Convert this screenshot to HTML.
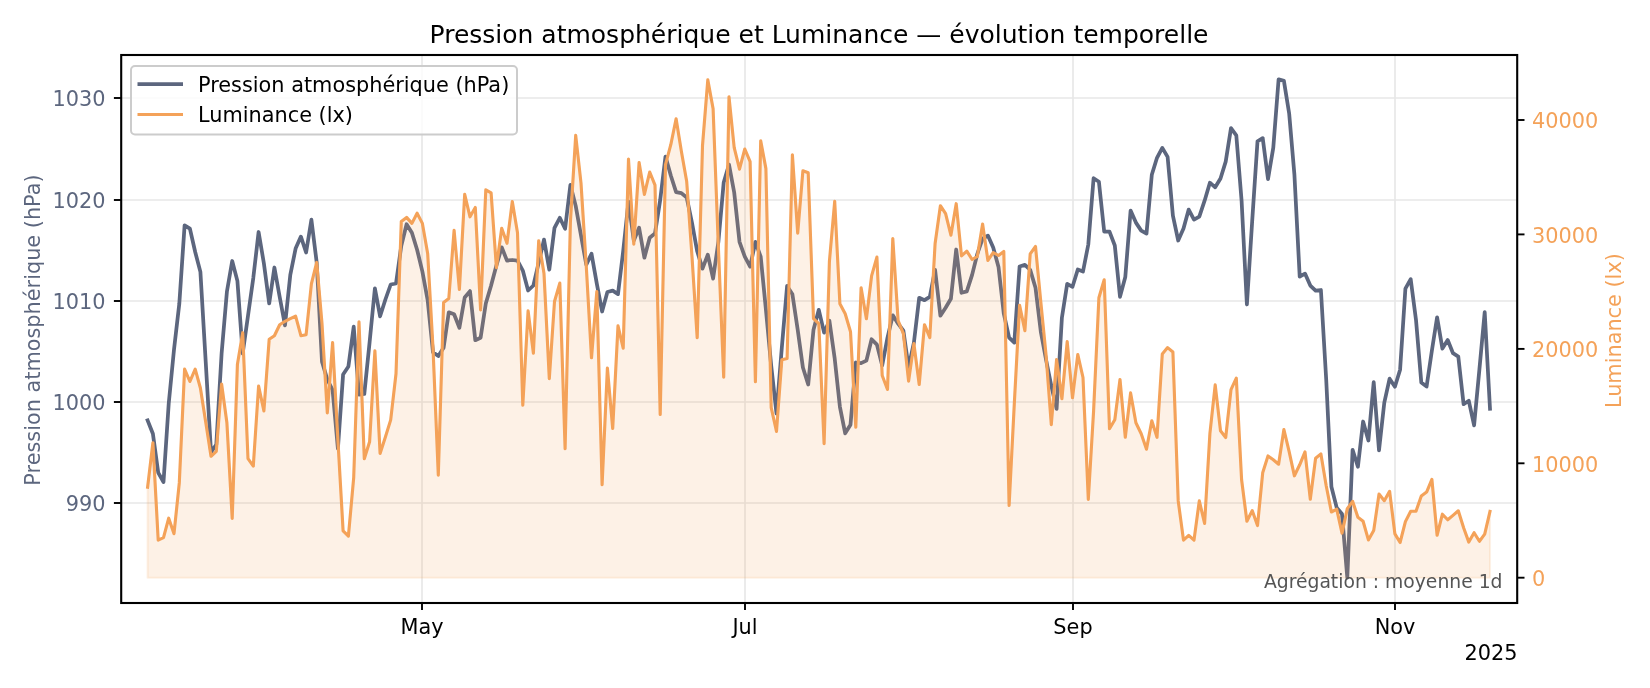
<!DOCTYPE html><html><head><meta charset="utf-8"><title>Pression atmosphérique et Luminance</title><style>html,body{margin:0;padding:0;background:#fff;overflow:hidden}body{width:1650px;height:688px}</style></head><body><svg width="1650" height="688" viewBox="0 0 1650 688" style="display:block;will-change:transform;font-family:'DejaVu Sans','Liberation Sans',sans-serif">
<rect width="1650" height="688" fill="#fff"/>
<line x1="422" x2="422" y1="55.0" y2="603.0" stroke="#e7e7e7" stroke-width="1.67"/>
<line x1="745" x2="745" y1="55.0" y2="603.0" stroke="#e7e7e7" stroke-width="1.67"/>
<line x1="1073" x2="1073" y1="55.0" y2="603.0" stroke="#e7e7e7" stroke-width="1.67"/>
<line x1="1395" x2="1395" y1="55.0" y2="603.0" stroke="#e7e7e7" stroke-width="1.67"/>
<line x1="121.2" x2="1517.2" y1="98" y2="98" stroke="#e7e7e7" stroke-width="1.67"/>
<line x1="121.2" x2="1517.2" y1="200" y2="200" stroke="#e7e7e7" stroke-width="1.67"/>
<line x1="121.2" x2="1517.2" y1="301" y2="301" stroke="#e7e7e7" stroke-width="1.67"/>
<line x1="121.2" x2="1517.2" y1="402" y2="402" stroke="#e7e7e7" stroke-width="1.67"/>
<line x1="121.2" x2="1517.2" y1="503" y2="503" stroke="#e7e7e7" stroke-width="1.67"/>
<path d="M147.6,420.4 L152.9,433.8 L158.2,472.6 L163.5,482.0 L168.7,403.9 L174.0,349.6 L179.3,303.8 L184.6,225.3 L189.9,228.6 L195.2,252.0 L200.4,271.9 L205.7,361.6 L211.0,452.1 L216.3,444.7 L221.6,353.6 L226.9,291.8 L232.2,261.0 L237.4,280.9 L242.7,353.6 L248.0,315.7 L253.3,277.9 L258.6,232.0 L263.9,263.5 L269.2,303.4 L274.4,267.5 L279.7,297.0 L285.0,325.3 L290.3,274.9 L295.6,248.6 L300.9,236.6 L306.1,252.5 L311.4,219.7 L316.7,262.5 L322.0,361.6 L327.3,379.5 L332.6,390.0 L337.9,448.7 L343.1,374.5 L348.4,366.5 L353.7,326.7 L359.0,394.6 L364.3,394.0 L369.6,342.2 L374.9,288.4 L380.1,316.3 L385.4,299.5 L390.7,284.5 L396.0,283.5 L401.3,245.7 L406.6,224.2 L411.9,232.7 L417.1,249.7 L422.4,271.6 L427.7,300.5 L433.0,352.2 L438.3,356.1 L443.6,347.8 L448.8,312.3 L454.1,314.3 L459.4,327.8 L464.7,297.5 L470.0,291.1 L475.3,340.2 L480.6,337.8 L485.8,303.5 L491.1,285.5 L496.4,265.6 L501.7,247.3 L507.0,260.6 L512.3,260.0 L517.5,260.6 L522.8,270.6 L528.1,290.5 L533.4,285.5 L538.7,262.6 L544.0,239.7 L549.3,269.6 L554.5,227.8 L559.8,217.8 L565.1,228.8 L570.4,184.9 L575.7,205.9 L581.0,235.4 L586.3,264.7 L591.5,253.7 L596.8,283.6 L602.1,311.5 L607.4,292.0 L612.7,290.6 L618.0,294.1 L623.2,251.1 L628.5,201.5 L633.8,240.5 L639.1,227.8 L644.4,257.7 L649.7,237.8 L655.0,233.4 L660.2,199.9 L665.5,156.6 L670.8,175.5 L676.1,192.1 L681.4,193.1 L686.7,197.5 L692.0,222.8 L697.2,251.3 L702.5,268.6 L707.8,254.7 L713.1,278.6 L718.4,241.8 L723.7,182.5 L729.0,164.6 L734.2,192.5 L739.5,241.8 L744.8,256.7 L750.1,266.7 L755.4,241.8 L760.7,256.7 L765.9,309.5 L771.2,365.7 L776.5,413.5 L781.8,347.8 L787.1,285.9 L792.4,294.2 L797.7,329.7 L802.9,367.5 L808.2,384.5 L813.5,329.7 L818.8,309.8 L824.1,332.7 L829.4,320.7 L834.7,358.6 L839.9,406.8 L845.2,433.3 L850.5,424.7 L855.8,362.5 L861.1,363.1 L866.4,360.6 L871.6,339.2 L876.9,344.6 L882.2,365.5 L887.5,337.6 L892.8,315.3 L898.1,323.7 L903.4,330.7 L908.6,367.5 L913.9,342.6 L919.2,297.8 L924.5,300.2 L929.8,296.8 L935.1,269.9 L940.4,315.7 L945.6,307.8 L950.9,298.8 L956.2,249.5 L961.5,292.8 L966.8,291.4 L972.1,274.9 L977.3,254.0 L982.6,238.6 L987.9,235.6 L993.2,247.5 L998.5,266.9 L1003.8,313.7 L1009.1,337.6 L1014.3,342.6 L1019.6,266.5 L1024.9,264.9 L1030.2,269.9 L1035.5,287.8 L1040.8,331.6 L1046.0,359.5 L1051.3,385.9 L1056.6,408.8 L1061.9,317.7 L1067.2,283.8 L1072.5,286.8 L1077.8,269.5 L1083.0,271.5 L1088.3,244.5 L1093.6,178.2 L1098.9,181.8 L1104.2,231.6 L1109.5,231.6 L1114.8,245.5 L1120.0,296.8 L1125.3,276.9 L1130.6,210.6 L1135.9,222.6 L1141.2,230.6 L1146.5,233.5 L1151.8,174.8 L1157.0,157.8 L1162.3,147.9 L1167.6,156.9 L1172.9,215.6 L1178.2,240.5 L1183.5,228.6 L1188.7,209.6 L1194.0,219.6 L1199.3,216.6 L1204.6,200.7 L1209.9,182.7 L1215.2,187.3 L1220.5,178.5 L1225.7,161.6 L1231.0,128.1 L1236.3,135.3 L1241.6,200.9 L1246.9,304.5 L1252.2,220.8 L1257.5,141.3 L1262.7,138.1 L1268.0,179.1 L1273.3,147.6 L1278.6,79.3 L1283.9,80.9 L1289.2,113.8 L1294.4,174.5 L1299.7,276.6 L1305.0,273.6 L1310.3,285.6 L1315.6,290.6 L1320.9,290.0 L1326.2,379.5 L1331.4,486.7 L1336.7,507.6 L1342.0,514.0 L1347.3,577.6 L1352.6,449.9 L1357.9,466.8 L1363.1,421.5 L1368.4,440.5 L1373.7,382.1 L1379.0,450.3 L1384.3,402.6 L1389.6,378.7 L1394.9,386.7 L1400.1,369.7 L1405.4,288.6 L1410.7,279.2 L1416.0,319.9 L1421.3,382.5 L1426.6,386.5 L1431.9,350.6 L1437.1,317.3 L1442.4,348.6 L1447.7,340.0 L1453.0,353.2 L1458.3,356.6 L1463.6,404.2 L1468.8,400.8 L1474.1,425.3 L1479.4,369.5 L1484.7,312.2 L1490.0,408.7" fill="none" stroke="#5c667e" stroke-width="3.75" stroke-linejoin="round" stroke-linecap="square"/>
<path d="M147.6,487.2 L152.9,442.7 L158.2,540.1 L163.5,537.7 L168.7,518.2 L174.0,533.7 L179.3,482.9 L184.6,369.1 L189.9,381.5 L195.2,369.1 L200.4,388.0 L205.7,422.0 L211.0,456.3 L216.3,451.3 L221.6,384.0 L226.9,422.8 L232.2,518.4 L237.4,364.5 L242.7,332.7 L248.0,458.7 L253.3,466.1 L258.6,386.0 L263.9,410.9 L269.2,339.2 L274.4,335.7 L279.7,324.7 L285.0,321.3 L290.3,318.7 L295.6,316.1 L300.9,335.7 L306.1,334.7 L311.4,283.9 L316.7,262.4 L322.0,323.7 L327.3,412.9 L332.6,342.6 L337.9,439.8 L343.1,530.8 L348.4,536.1 L353.7,477.6 L359.0,321.7 L364.3,458.8 L369.6,441.8 L374.9,350.8 L380.1,453.4 L385.4,436.9 L390.7,419.9 L396.0,373.7 L401.3,221.4 L406.6,217.4 L411.9,223.4 L417.1,213.2 L422.4,223.4 L427.7,253.7 L433.0,347.8 L438.3,475.3 L443.6,302.5 L448.8,298.5 L454.1,230.4 L459.4,289.5 L464.7,194.3 L470.0,216.8 L475.3,207.5 L480.6,309.9 L485.8,189.9 L491.1,192.9 L496.4,267.6 L501.7,228.2 L507.0,243.3 L512.3,201.5 L517.5,232.7 L522.8,405.1 L528.1,310.9 L533.4,353.3 L538.7,240.7 L544.0,273.6 L549.3,378.6 L554.5,301.5 L559.8,283.1 L565.1,448.8 L570.4,221.8 L575.7,135.3 L581.0,183.1 L586.3,266.7 L591.5,357.8 L596.8,291.6 L602.1,484.7 L607.4,368.1 L612.7,428.5 L618.0,325.9 L623.2,348.2 L628.5,159.0 L633.8,244.1 L639.1,162.6 L644.4,194.5 L649.7,172.0 L655.0,185.1 L660.2,414.5 L665.5,164.6 L670.8,144.7 L676.1,118.8 L681.4,151.6 L686.7,181.5 L692.0,256.7 L697.2,337.8 L702.5,145.7 L707.8,79.9 L713.1,108.8 L718.4,247.7 L723.7,377.3 L729.0,96.9 L734.2,147.6 L739.5,169.2 L744.8,149.0 L750.1,161.6 L755.4,381.7 L760.7,140.7 L765.9,168.6 L771.2,407.6 L776.5,431.5 L781.8,359.8 L787.1,358.4 L792.4,154.9 L797.7,233.2 L802.9,170.8 L808.2,172.8 L813.5,318.7 L818.8,323.7 L824.1,443.7 L829.4,261.5 L834.7,201.3 L839.9,303.8 L845.2,313.7 L850.5,331.7 L855.8,427.3 L861.1,287.8 L866.4,318.7 L871.6,275.9 L876.9,257.1 L882.2,375.5 L887.5,389.5 L892.8,238.6 L898.1,320.7 L903.4,333.7 L908.6,381.1 L913.9,343.6 L919.2,384.5 L924.5,324.7 L929.8,337.6 L935.1,243.5 L940.4,205.7 L945.6,213.7 L950.9,235.2 L956.2,203.7 L961.5,255.9 L966.8,251.1 L972.1,259.5 L977.3,256.5 L982.6,224.0 L987.9,260.5 L993.2,252.5 L998.5,255.5 L1003.8,251.5 L1009.1,505.5 L1014.3,403.8 L1019.6,305.3 L1024.9,330.6 L1030.2,253.9 L1035.5,246.5 L1040.8,301.8 L1046.0,354.5 L1051.3,424.7 L1056.6,359.5 L1061.9,398.8 L1067.2,341.6 L1072.5,397.8 L1077.8,354.5 L1083.0,377.5 L1088.3,499.5 L1093.6,410.8 L1098.9,297.8 L1104.2,279.8 L1109.5,428.7 L1114.8,419.8 L1120.0,379.5 L1125.3,437.3 L1130.6,392.9 L1135.9,422.7 L1141.2,433.7 L1146.5,449.2 L1151.8,420.8 L1157.0,437.3 L1162.3,353.9 L1167.6,347.6 L1172.9,352.0 L1178.2,500.9 L1183.5,540.1 L1188.7,535.3 L1194.0,540.1 L1199.3,500.9 L1204.6,523.4 L1209.9,433.7 L1215.2,384.9 L1220.5,430.7 L1225.7,437.5 L1231.0,389.6 L1236.3,378.1 L1241.6,479.8 L1246.9,521.2 L1252.2,510.6 L1257.5,525.6 L1262.7,472.8 L1268.0,455.9 L1273.3,459.8 L1278.6,464.2 L1283.9,429.5 L1289.2,451.9 L1294.4,475.8 L1299.7,464.8 L1305.0,451.9 L1310.3,499.3 L1315.6,458.2 L1320.9,453.9 L1326.2,485.7 L1331.4,512.0 L1336.7,509.2 L1342.0,533.1 L1347.3,508.6 L1352.6,501.3 L1357.9,517.2 L1363.1,521.2 L1368.4,539.9 L1373.7,530.6 L1379.0,494.1 L1384.3,500.7 L1389.6,491.3 L1394.9,533.9 L1400.1,542.5 L1405.4,521.6 L1410.7,511.2 L1416.0,511.2 L1421.3,496.1 L1426.6,492.1 L1431.9,479.4 L1437.1,535.3 L1442.4,514.2 L1447.7,519.8 L1453.0,515.4 L1458.3,510.8 L1463.6,527.8 L1468.8,542.1 L1474.1,532.7 L1479.4,541.3 L1484.7,534.1 L1490.0,511.3 L1490.0,577.7 L147.6,577.7 Z" fill="#f4a259" fill-opacity="0.15" stroke="#f4a259" stroke-opacity="0.15" stroke-width="2.08" stroke-linejoin="round"/>
<path d="M147.6,487.2 L152.9,442.7 L158.2,540.1 L163.5,537.7 L168.7,518.2 L174.0,533.7 L179.3,482.9 L184.6,369.1 L189.9,381.5 L195.2,369.1 L200.4,388.0 L205.7,422.0 L211.0,456.3 L216.3,451.3 L221.6,384.0 L226.9,422.8 L232.2,518.4 L237.4,364.5 L242.7,332.7 L248.0,458.7 L253.3,466.1 L258.6,386.0 L263.9,410.9 L269.2,339.2 L274.4,335.7 L279.7,324.7 L285.0,321.3 L290.3,318.7 L295.6,316.1 L300.9,335.7 L306.1,334.7 L311.4,283.9 L316.7,262.4 L322.0,323.7 L327.3,412.9 L332.6,342.6 L337.9,439.8 L343.1,530.8 L348.4,536.1 L353.7,477.6 L359.0,321.7 L364.3,458.8 L369.6,441.8 L374.9,350.8 L380.1,453.4 L385.4,436.9 L390.7,419.9 L396.0,373.7 L401.3,221.4 L406.6,217.4 L411.9,223.4 L417.1,213.2 L422.4,223.4 L427.7,253.7 L433.0,347.8 L438.3,475.3 L443.6,302.5 L448.8,298.5 L454.1,230.4 L459.4,289.5 L464.7,194.3 L470.0,216.8 L475.3,207.5 L480.6,309.9 L485.8,189.9 L491.1,192.9 L496.4,267.6 L501.7,228.2 L507.0,243.3 L512.3,201.5 L517.5,232.7 L522.8,405.1 L528.1,310.9 L533.4,353.3 L538.7,240.7 L544.0,273.6 L549.3,378.6 L554.5,301.5 L559.8,283.1 L565.1,448.8 L570.4,221.8 L575.7,135.3 L581.0,183.1 L586.3,266.7 L591.5,357.8 L596.8,291.6 L602.1,484.7 L607.4,368.1 L612.7,428.5 L618.0,325.9 L623.2,348.2 L628.5,159.0 L633.8,244.1 L639.1,162.6 L644.4,194.5 L649.7,172.0 L655.0,185.1 L660.2,414.5 L665.5,164.6 L670.8,144.7 L676.1,118.8 L681.4,151.6 L686.7,181.5 L692.0,256.7 L697.2,337.8 L702.5,145.7 L707.8,79.9 L713.1,108.8 L718.4,247.7 L723.7,377.3 L729.0,96.9 L734.2,147.6 L739.5,169.2 L744.8,149.0 L750.1,161.6 L755.4,381.7 L760.7,140.7 L765.9,168.6 L771.2,407.6 L776.5,431.5 L781.8,359.8 L787.1,358.4 L792.4,154.9 L797.7,233.2 L802.9,170.8 L808.2,172.8 L813.5,318.7 L818.8,323.7 L824.1,443.7 L829.4,261.5 L834.7,201.3 L839.9,303.8 L845.2,313.7 L850.5,331.7 L855.8,427.3 L861.1,287.8 L866.4,318.7 L871.6,275.9 L876.9,257.1 L882.2,375.5 L887.5,389.5 L892.8,238.6 L898.1,320.7 L903.4,333.7 L908.6,381.1 L913.9,343.6 L919.2,384.5 L924.5,324.7 L929.8,337.6 L935.1,243.5 L940.4,205.7 L945.6,213.7 L950.9,235.2 L956.2,203.7 L961.5,255.9 L966.8,251.1 L972.1,259.5 L977.3,256.5 L982.6,224.0 L987.9,260.5 L993.2,252.5 L998.5,255.5 L1003.8,251.5 L1009.1,505.5 L1014.3,403.8 L1019.6,305.3 L1024.9,330.6 L1030.2,253.9 L1035.5,246.5 L1040.8,301.8 L1046.0,354.5 L1051.3,424.7 L1056.6,359.5 L1061.9,398.8 L1067.2,341.6 L1072.5,397.8 L1077.8,354.5 L1083.0,377.5 L1088.3,499.5 L1093.6,410.8 L1098.9,297.8 L1104.2,279.8 L1109.5,428.7 L1114.8,419.8 L1120.0,379.5 L1125.3,437.3 L1130.6,392.9 L1135.9,422.7 L1141.2,433.7 L1146.5,449.2 L1151.8,420.8 L1157.0,437.3 L1162.3,353.9 L1167.6,347.6 L1172.9,352.0 L1178.2,500.9 L1183.5,540.1 L1188.7,535.3 L1194.0,540.1 L1199.3,500.9 L1204.6,523.4 L1209.9,433.7 L1215.2,384.9 L1220.5,430.7 L1225.7,437.5 L1231.0,389.6 L1236.3,378.1 L1241.6,479.8 L1246.9,521.2 L1252.2,510.6 L1257.5,525.6 L1262.7,472.8 L1268.0,455.9 L1273.3,459.8 L1278.6,464.2 L1283.9,429.5 L1289.2,451.9 L1294.4,475.8 L1299.7,464.8 L1305.0,451.9 L1310.3,499.3 L1315.6,458.2 L1320.9,453.9 L1326.2,485.7 L1331.4,512.0 L1336.7,509.2 L1342.0,533.1 L1347.3,508.6 L1352.6,501.3 L1357.9,517.2 L1363.1,521.2 L1368.4,539.9 L1373.7,530.6 L1379.0,494.1 L1384.3,500.7 L1389.6,491.3 L1394.9,533.9 L1400.1,542.5 L1405.4,521.6 L1410.7,511.2 L1416.0,511.2 L1421.3,496.1 L1426.6,492.1 L1431.9,479.4 L1437.1,535.3 L1442.4,514.2 L1447.7,519.8 L1453.0,515.4 L1458.3,510.8 L1463.6,527.8 L1468.8,542.1 L1474.1,532.7 L1479.4,541.3 L1484.7,534.1 L1490.0,511.3" fill="none" stroke="#f4a259" stroke-width="3.12" stroke-linejoin="round" stroke-linecap="square"/>
<rect x="121.2" y="55.0" width="1396.0" height="548.0" fill="none" stroke="#000" stroke-width="2.1"/>
<line x1="422" x2="422" y1="603.0" y2="610.0" stroke="#000" stroke-width="1.9"/>
<text x="422" y="634" font-size="20.83" text-anchor="middle" fill="#000">May</text>
<line x1="745" x2="745" y1="603.0" y2="610.0" stroke="#000" stroke-width="1.9"/>
<text x="745" y="634" font-size="20.83" text-anchor="middle" fill="#000">Jul</text>
<line x1="1073" x2="1073" y1="603.0" y2="610.0" stroke="#000" stroke-width="1.9"/>
<text x="1073" y="634" font-size="20.83" text-anchor="middle" fill="#000">Sep</text>
<line x1="1395" x2="1395" y1="603.0" y2="610.0" stroke="#000" stroke-width="1.9"/>
<text x="1395" y="634" font-size="20.83" text-anchor="middle" fill="#000">Nov</text>
<line x1="113.9" x2="121.2" y1="98" y2="98" stroke="#000" stroke-width="1.9"/>
<text x="105.6" y="106.4" font-size="20.83" text-anchor="end" fill="#5c667e">1030</text>
<line x1="113.9" x2="121.2" y1="200" y2="200" stroke="#000" stroke-width="1.9"/>
<text x="105.6" y="208.4" font-size="20.83" text-anchor="end" fill="#5c667e">1020</text>
<line x1="113.9" x2="121.2" y1="301" y2="301" stroke="#000" stroke-width="1.9"/>
<text x="105.6" y="309.4" font-size="20.83" text-anchor="end" fill="#5c667e">1010</text>
<line x1="113.9" x2="121.2" y1="402" y2="402" stroke="#000" stroke-width="1.9"/>
<text x="105.6" y="410.4" font-size="20.83" text-anchor="end" fill="#5c667e">1000</text>
<line x1="113.9" x2="121.2" y1="503" y2="503" stroke="#000" stroke-width="1.9"/>
<text x="105.6" y="511.4" font-size="20.83" text-anchor="end" fill="#5c667e">990</text>
<line x1="1517.2" x2="1524.5" y1="120" y2="120" stroke="#000" stroke-width="1.9"/>
<text x="1532" y="128.3" font-size="20.83" text-anchor="start" fill="#f4a259">40000</text>
<line x1="1517.2" x2="1524.5" y1="234.4" y2="234.4" stroke="#000" stroke-width="1.9"/>
<text x="1532" y="242.70000000000002" font-size="20.83" text-anchor="start" fill="#f4a259">30000</text>
<line x1="1517.2" x2="1524.5" y1="348.9" y2="348.9" stroke="#000" stroke-width="1.9"/>
<text x="1532" y="357.2" font-size="20.83" text-anchor="start" fill="#f4a259">20000</text>
<line x1="1517.2" x2="1524.5" y1="463.3" y2="463.3" stroke="#000" stroke-width="1.9"/>
<text x="1532" y="471.6" font-size="20.83" text-anchor="start" fill="#f4a259">10000</text>
<line x1="1517.2" x2="1524.5" y1="577.7" y2="577.7" stroke="#000" stroke-width="1.9"/>
<text x="1532" y="586.0" font-size="20.83" text-anchor="start" fill="#f4a259">0</text>
<text x="1517.5" y="660" font-size="20.83" text-anchor="end" fill="#000">2025</text>
<text transform="translate(40,330) rotate(-90)" font-size="20.83" text-anchor="middle" fill="#5c667e">Pression atmosphérique (hPa)</text>
<text transform="translate(1621,330.6) rotate(-90)" font-size="20.83" text-anchor="middle" fill="#f4a259">Luminance (lx)</text>
<text x="819" y="42.7" font-size="25" text-anchor="middle" fill="#000">Pression atmosphérique et Luminance — évolution temporelle</text>
<text x="1502.5" y="587.7" font-size="18.75" text-anchor="end" fill="#555">Agrégation : moyenne 1d</text>
<rect x="131" y="66" width="386" height="68.4" rx="4" ry="4" fill="#fff" fill-opacity="0.8" stroke="#cccccc" stroke-width="2"/>
<line x1="137.5" x2="183" y1="84" y2="84" stroke="#5c667e" stroke-width="3.75"/>
<line x1="137.5" x2="183" y1="114.5" y2="114.5" stroke="#f4a259" stroke-width="3.1"/>
<text x="198" y="91.5" font-size="20.83" fill="#000">Pression atmosphérique (hPa)</text>
<text x="198" y="122" font-size="20.83" fill="#000">Luminance (lx)</text>
</svg></body></html>
